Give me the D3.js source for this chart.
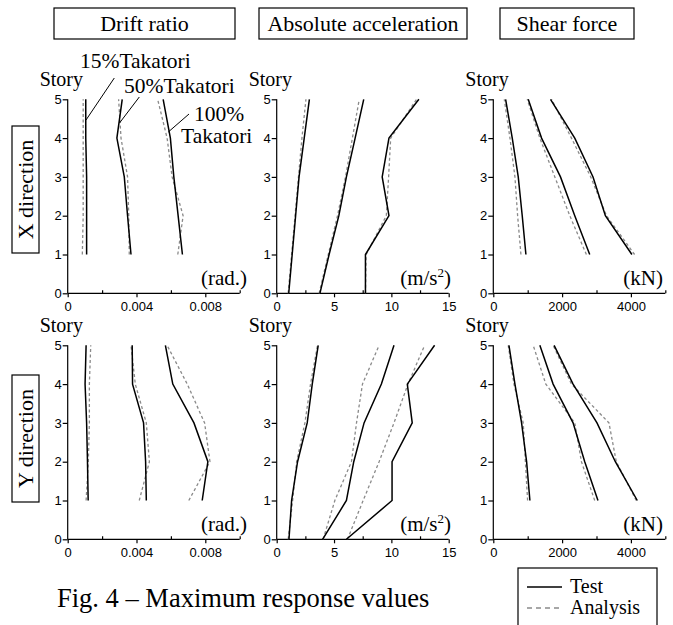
<!DOCTYPE html>
<html>
<head>
<meta charset="utf-8">
<script src="https://cdn.jsdelivr.net/npm/d3@7"></script>
<style>
  body { margin: 0; background: #fff; }
  svg { display: block; }
</style>
</head>
<body>
<div id="chart"></div>
<script>
const width = 673;
const height = 625;

// stories
const stories1 = [1, 2, 3, 4, 5];
const stories0 = [0, 1, 2, 3, 4, 5];

// drift ratio (rad.), stories 1..5
const driftX15Test = [0.0011, 0.0011, 0.0011, 0.00105, 0.00105];
const driftX15Ana = [0.00085, 0.0009, 0.0009, 0.0009, 0.0009];
const driftX50Test = [0.00368, 0.00348, 0.00329, 0.00286, 0.00317];
const driftX50Ana = [0.00358, 0.00355, 0.00348, 0.0031, 0.00296];
const driftX100Test = [0.00667, 0.00642, 0.00617, 0.00597, 0.00555];
const driftX100Ana = [0.0064, 0.00671, 0.00607, 0.00578, 0.00523];

const driftY15Test = [0.00119, 0.00115, 0.0011, 0.00101, 0.00107];
const driftY15Ana = [0.00107, 0.0012, 0.00126, 0.00126, 0.00134];
const driftY50Test = [0.00457, 0.00453, 0.00441, 0.00377, 0.00375];
const driftY50Ana = [0.00416, 0.00475, 0.00457, 0.00393, 0.00368];
const driftY100Test = [0.00782, 0.00815, 0.00734, 0.00611, 0.00568];
const driftY100Ana = [0.00704, 0.00827, 0.00796, 0.00695, 0.00578];

// absolute acceleration (m/s2), stories 0..5
const accX15Test = [1.05, 1.35, 1.65, 1.95, 2.4, 2.85];
const accX15Ana = [1.0, 1.3, 1.6, 1.9, 2.2, 2.55];
const accX50Test = [3.77, 4.57, 5.42, 6.08, 6.84, 7.59];
const accX50Ana = [3.7, 4.5, 5.3, 6.0, 6.6, 7.2];
const accX100Test = [7.74, 7.74, 9.79, 9.2, 9.79, 12.4];
const accX100Ana = [7.74, 7.8, 9.56, 9.76, 9.94, 12.2];

const accY15Test = [1.07, 1.3, 1.82, 2.66, 3.1, 3.62];
const accY15Ana = [1.0, 1.39, 1.74, 2.46, 2.95, 3.56];
const accY50Test = [4.0, 6.08, 6.72, 7.62, 9.13, 10.23];
const accY50Ana = [4.05, 5.07, 6.52, 6.96, 7.48, 8.93];
const accY100Test = [6.08, 10.06, 10.06, 11.82, 11.39, 13.77];
const accY100Ana = [6.17, 7.54, 8.93, 10.23, 11.45, 12.9];

// shear force (kN), stories 1..5
const shearX15Test = [948, 841, 725, 551, 358];
const shearX15Ana = [803, 707, 629, 484, 319];
const shearX50Test = [2803, 2368, 1953, 1403, 1015];
const shearX50Ana = [2706, 2223, 1788, 1353, 986];
const shearX100Test = [4029, 3258, 2899, 2368, 1663];
const shearX100Ana = [4107, 3290, 2832, 2272, 1693];

const shearY15Test = [1064, 968, 822, 629, 455];
const shearY15Ana = [997, 932, 870, 600, 435];
const shearY50Test = [3043, 2658, 2319, 1739, 1353];
const shearY50Ana = [2948, 2562, 2368, 1527, 1159];
const shearY100Test = [4186, 3548, 3014, 2319, 1768];
const shearY100Ana = [4157, 3575, 3362, 2272, 1739];

// axes
const columnTitles = ["Drift ratio", "Absolute acceleration", "Shear force"];
const rowTitles = ["X direction", "Y direction"];
const xMax = [0.01, 15, 5000];
const xMajor = [[0, 0.004, 0.008], [0, 5, 10, 15], [0, 2000, 4000]];
const xMinor = [[0.002, 0.006, 0.01], [2.5, 7.5, 12.5], [1000, 3000, 5000]];
const yTicks = [0, 1, 2, 3, 4, 5];
const legendLabels = ["Test", "Analysis"];

const serif = "'Liberation Serif', 'Times New Roman', serif";
const sans = "'Liberation Sans', Arial, sans-serif";

const colX = [67.7, 276.7, 493.3];
const unitRight = [247, 451, 663];
const rowY = [293.3, 539.3];
const plotW = 172;
const plotH = 194;

const svg = d3.select("#chart")
    .append("svg")
    .attr("width", width)
    .attr("height", height);

const panels = [
    { row: 0, col: 0, st: stories1, unit: "(rad.)", series: [[driftX15Test, driftX15Ana], [driftX50Test, driftX50Ana], [driftX100Test, driftX100Ana]] },
    { row: 0, col: 1, st: stories0, unit: "acc", series: [[accX15Test, accX15Ana], [accX50Test, accX50Ana], [accX100Test, accX100Ana]] },
    { row: 0, col: 2, st: stories1, unit: "(kN)", series: [[shearX15Test, shearX15Ana], [shearX50Test, shearX50Ana], [shearX100Test, shearX100Ana]] },
    { row: 1, col: 0, st: stories1, unit: "(rad.)", series: [[driftY15Test, driftY15Ana], [driftY50Test, driftY50Ana], [driftY100Test, driftY100Ana]] },
    { row: 1, col: 1, st: stories0, unit: "acc", series: [[accY15Test, accY15Ana], [accY50Test, accY50Ana], [accY100Test, accY100Ana]] },
    { row: 1, col: 2, st: stories1, unit: "(kN)", series: [[shearY15Test, shearY15Ana], [shearY50Test, shearY50Ana], [shearY100Test, shearY100Ana]] }
];

panels.forEach(p => {
    const x0 = colX[p.col];
    const y0 = rowY[p.row];
    const x = d3.scaleLinear().domain([0, xMax[p.col]]).range([x0, x0 + plotW]);
    const y = d3.scaleLinear().domain([0, 5]).range([y0, y0 - plotH]);
    const g = svg.append("g");

    // x axis: major ticks point down, minor ticks point up
    g.append("g")
        .attr("transform", `translate(0,${y0})`)
        .call(d3.axisBottom(x).tickValues(xMajor[p.col]).tickSize(4).tickPadding(4).tickFormat(d3.format("")))
        .call(a => a.select(".domain").attr("d", `M${x0},0H${x0 + plotW}`))
        .call(a => a.selectAll("text").attr("font-family", sans).attr("font-size", 13).attr("fill", "#000"));
    g.append("g")
        .attr("transform", `translate(0,${y0})`)
        .call(d3.axisTop(x).tickValues(xMinor[p.col]).tickSize(3).tickFormat(""))
        .call(a => a.select(".domain").remove());

    g.append("g")
        .attr("transform", `translate(${x0},0)`)
        .call(d3.axisLeft(y).tickValues(yTicks).tickSize(5).tickPadding(1).tickFormat(d3.format("d")))
        .call(a => a.select(".domain").attr("d", `M0,${y0}V${y0 - plotH}`))
        .call(a => a.selectAll("text").attr("font-family", sans).attr("font-size", 13).attr("fill", "#000"));

    svg.selectAll(".domain, .tick line").attr("stroke", "#000").attr("stroke-width", 1.2);

    g.append("text")
        .attr("x", x0 - 28)
        .attr("y", y0 - plotH - 13)
        .attr("font-family", serif)
        .attr("font-size", 20)
        .text("Story");

    const unit = g.append("text")
        .attr("x", unitRight[p.col])
        .attr("y", y0 - 8)
        .attr("text-anchor", "end")
        .attr("font-family", serif)
        .attr("font-size", 21);
    if (p.unit === "acc") {
        unit.append("tspan").text("(m/s");
        unit.append("tspan").attr("font-size", 13).attr("dy", -8).text("2");
        unit.append("tspan").attr("dy", 8).text(")");
    } else {
        unit.text(p.unit);
    }

    const line = d3.line()
        .x(d => x(d[0]))
        .y(d => y(d[1]));

    p.series.forEach(([test, ana]) => {
        g.append("path")
            .datum(ana.map((v, i) => [v, p.st[i]]))
            .attr("d", line)
            .attr("fill", "none")
            .attr("stroke", "#8a8a8a")
            .attr("stroke-width", 1.3)
            .attr("stroke-dasharray", "3,2.5");
        g.append("path")
            .datum(test.map((v, i) => [v, p.st[i]]))
            .attr("d", line)
            .attr("fill", "none")
            .attr("stroke", "#000")
            .attr("stroke-width", 1.5);
    });
});

// column titles in boxes
const titleBoxes = [[54, 235], [259, 467], [500, 634]];
columnTitles.forEach((t, i) => {
    const [l, r] = titleBoxes[i];
    svg.append("rect")
        .attr("x", l).attr("y", 8)
        .attr("width", r - l).attr("height", 31)
        .attr("fill", "none").attr("stroke", "#000").attr("stroke-width", 1.2);
    svg.append("text")
        .attr("x", (l + r) / 2).attr("y", 31)
        .attr("text-anchor", "middle")
        .attr("font-family", serif)
        .attr("font-size", 22)
        .text(t);
});

// row titles, rotated
const rowBoxes = [[126, 253], [375, 502]];
rowTitles.forEach((t, i) => {
    const [top, bottom] = rowBoxes[i];
    svg.append("rect")
        .attr("x", 12).attr("y", top)
        .attr("width", 27).attr("height", bottom - top)
        .attr("fill", "none").attr("stroke", "#000").attr("stroke-width", 1.2);
    svg.append("text")
        .attr("transform", `translate(33,${(top + bottom) / 2}) rotate(-90)`)
        .attr("text-anchor", "middle")
        .attr("font-family", serif)
        .attr("font-size", 22)
        .text(t);
});

// intensity annotations in the first panel
const ann = svg.append("g").attr("font-family", serif).attr("font-size", 21.5);
ann.append("text").attr("x", 80).attr("y", 68).text("15%Takatori");
ann.append("text").attr("x", 124).attr("y", 93).text("50%Takatori");
ann.append("text").attr("x", 194).attr("y", 121).text("100%");
ann.append("text").attr("x", 181).attr("y", 143).text("Takatori");
const leaders = [[114.3, 78, 86, 120], [139.3, 97, 119.5, 123], [189, 114, 168.3, 132]];
leaders.forEach(([a, b, c, d]) => {
    svg.append("line")
        .attr("x1", a).attr("y1", b).attr("x2", c).attr("y2", d)
        .attr("stroke", "#000").attr("stroke-width", 1);
});

// caption
svg.append("text")
    .attr("x", 57).attr("y", 607)
    .attr("font-family", serif)
    .attr("font-size", 26.5)
    .text("Fig. 4 \u2013 Maximum response values");

// legend
const legend = svg.append("g");
legend.append("rect")
    .attr("x", 518).attr("y", 568)
    .attr("width", 139).attr("height", 70)
    .attr("fill", "none").attr("stroke", "#000").attr("stroke-width", 1.2);
legendLabels.forEach((t, i) => {
    const ly = 587 + i * 21;
    legend.append("line")
        .attr("x1", 527).attr("x2", 562).attr("y1", ly).attr("y2", ly)
        .attr("stroke", i === 0 ? "#000" : "#8a8a8a")
        .attr("stroke-width", i === 0 ? 1.5 : 1.3)
        .attr("stroke-dasharray", i === 0 ? null : "5,4");
    legend.append("text")
        .attr("x", 570).attr("y", ly + 6)
        .attr("font-family", serif)
        .attr("font-size", 20)
        .text(t);
});
</script>
</body>
</html>
